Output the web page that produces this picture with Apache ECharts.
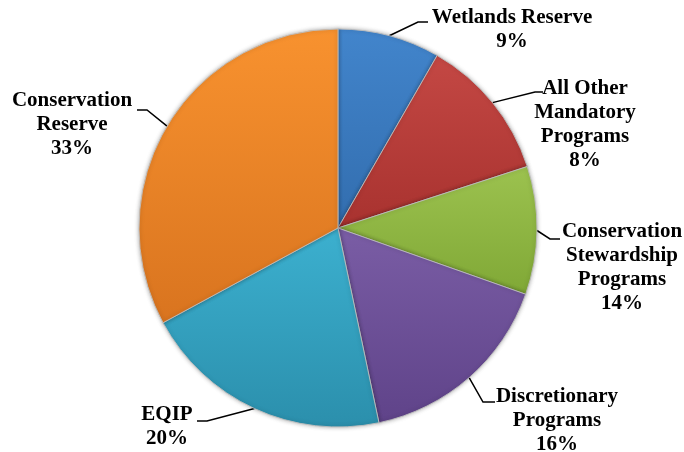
<!DOCTYPE html>
<html>
<head>
<meta charset="utf-8">
<script src="https://cdn.jsdelivr.net/npm/echarts@6/dist/echarts.min.js"></script>
<style>
  html, body { margin: 0; padding: 0; background: #ffffff; }
  #chart { width: 684px; height: 452px; }
</style>
</head>
<body>
<div id="chart"></div>
<script>
// slice names, clockwise from 12 o'clock
const programs = [
  'Wetlands Reserve',
  'All Other\nMandatory\nPrograms',
  'Conservation\nStewardship\nPrograms',
  'Discretionary\nPrograms',
  'EQIP',
  'Conservation\nReserve'
];
// slice sizes as drawn in the picture
const shares = [8.3, 11.7, 10.4, 16.3, 20.4, 32.9];
// percent text as printed on the labels
const pctLabels = ['9%', '8%', '14%', '16%', '20%', '33%'];

const lightColors = ['#4285cc', '#c44844', '#9cc24f', '#7a5da5', '#3cb0cf', '#f8922f'];
const darkColors  = ['#326dae', '#a8322f', '#80a836', '#5f4389', '#2b8fac', '#d9741f'];

// label placement: block centre and leader bend/end points
const labelPos = [
  { x: 512, y: 30,  pts: [[418, 22], [428, 22]] },
  { x: 585, y: 125, pts: [[535, 92], [543, 92]] },
  { x: 622, y: 268, pts: [[550, 239], [560, 239]] },
  { x: 557, y: 421, pts: [[483, 402], [495, 402]] },
  { x: 167, y: 427, pts: [[207, 421], [197, 421]] },
  { x: 72,  y: 125, pts: [[147, 110], [137, 110]] }
];

const chart = echarts.init(document.getElementById('chart'));

const seriesData = programs.map((name, i) => ({
  name: name,
  value: shares[i],
  itemStyle: {
    color: {
      type: 'linear', x: 0, y: 0, x2: 0, y2: 1,
      colorStops: [
        { offset: 0, color: lightColors[i] },
        { offset: 1, color: darkColors[i] }
      ]
    }
  }
}));

chart.setOption({
  backgroundColor: '#ffffff',
  animation: false,
  series: [
    {
      type: 'pie',
      center: [338, 228],
      radius: [0, 199],
      startAngle: 90,
      clockwise: true,
      data: seriesData,
      itemStyle: {
        borderColor: 'rgba(190,190,190,0.9)',
        borderWidth: 1,
        shadowBlur: 4,
        shadowColor: 'rgba(0,0,0,0.3)'
      },
      label: {
        show: true,
        position: 'outside',
        overflow: 'none',
        formatter: p => p.name + '\n' + pctLabels[p.dataIndex],
        fontFamily: '"Liberation Serif", "Times New Roman", serif',
        fontWeight: 'bold',
        fontSize: 21,
        lineHeight: 24,
        color: '#000000'
      },
      labelLine: {
        show: true,
        lineStyle: { color: '#000000', width: 1.5 }
      },
      labelLayout: function (params) {
        const pos = labelPos[params.dataIndex];
        const start = params.labelLinePoints ? params.labelLinePoints[0] : pos.pts[0];
        return {
          x: pos.x,
          y: pos.y,
          align: 'center',
          verticalAlign: 'middle',
          labelLinePoints: [start, pos.pts[0], pos.pts[1]]
        };
      }
    }
  ]
});
</script>
</body>
</html>
